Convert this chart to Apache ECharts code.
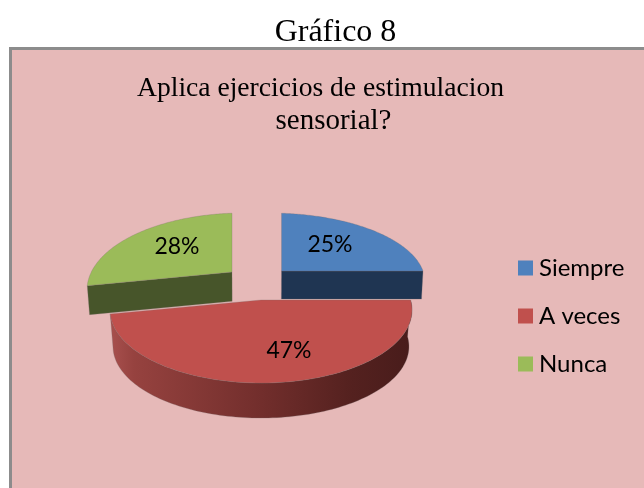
<!DOCTYPE html>
<html>
<head>
<meta charset="utf-8">
<style>html,body{margin:0;padding:0;background:#fff}#c{width:644px;height:488px}</style>
<script src="https://cdn.jsdelivr.net/npm/echarts@6/dist/echarts.min.js"></script>
</head>
<body>
<div id="c"></div>
<script>
const categories = ['Siempre', 'A veces', 'Nunca'];
const values = [25, 47, 28];
const pageTitle = 'Gráfico 8';
const titleLines = ['Aplica ejercicios de estimulacion', 'sensorial?'];

const colors = ['#4F81BD', '#C0504D', '#9BBB59'];
const wallColors = ['#1F3552', null, '#47552A'];
const geometry = [
  {apexX: 281.5, apexY: 271, cx: 270, cy: 282, rx: 155, ry: 69, depth: 28, taper: 0.99, lx: 60, ly: -37, z: 4},
  {apexX: 261, apexY: 300, cx: 261, cy: 310, rx: 151, ry: 73, depth: 36.5, taper: 0.98, lx: 28, ly: 41, z: 2},
  {apexX: 232, apexY: 272, cx: 243, cy: 290, rx: 156, ry: 77, depth: 29, taper: 0.985, lx: -66, ly: -43, z: 3}
];
const total = values.reduce((a, b) => a + b, 0);

function rimPoint(g, a) {
  const dx = g.rx * Math.sin(a), dy = -g.ry * Math.cos(a);
  const ox = g.apexX - g.cx, oy = g.apexY - g.cy;
  const A = dx * dx / (g.rx * g.rx) + dy * dy / (g.ry * g.ry);
  const B = 2 * (ox * dx / (g.rx * g.rx) + oy * dy / (g.ry * g.ry));
  const C = ox * ox / (g.rx * g.rx) + oy * oy / (g.ry * g.ry) - 1;
  const t = (-B + Math.sqrt(B * B - 4 * A * C)) / (2 * A);
  return [g.apexX + t * dx, g.apexY + t * dy];
}
function arcPoints(g, a0, a1) {
  const pts = [];
  const steps = 120;
  for (let i = 0; i <= steps; i++) {
    pts.push(rimPoint(g, a0 + (a1 - a0) * i / steps));
  }
  return pts;
}
function lower(g, p) {
  return [g.cx + (p[0] - g.cx) * g.taper, g.cy + (p[1] - g.cy) * g.taper + g.depth];
}
function renderSlice(index) {
  return function () {
    const g = geometry[index];
    const before = values.slice(0, index).reduce((a, b) => a + b, 0);
    const a0 = before / total * Math.PI * 2;
    const a1 = (before + values[index]) / total * Math.PI * 2;
    const arc = arcPoints(g, a0, a1);
    const apex = [g.apexX, g.apexY];
    const children = [];
    const edge = {stroke: 'rgba(120,110,110,0.45)', lineWidth: 0.6};
    if (index === 1) {
      const low = arc.map(p => lower(g, p)).reverse();
      children.push({
        type: 'polygon',
        shape: {points: arc.concat(low)},
        style: {
          fill: new echarts.graphic.LinearGradient(0, 0, 1, 0, [
            {offset: 0, color: '#A8504E'},
            {offset: 0.08, color: '#96423F'},
            {offset: 0.5, color: '#722E2C'},
            {offset: 0.8, color: '#54211F'},
            {offset: 1, color: '#481C1B'}
          ]),
          stroke: edge.stroke, lineWidth: edge.lineWidth
        }
      });
    } else {
      const outer = index === 0 ? arc[arc.length - 1] : arc[0];
      children.push({
        type: 'polygon',
        shape: {points: [apex, outer, lower(g, outer), lower(g, apex)]},
        style: {fill: wallColors[index], stroke: edge.stroke, lineWidth: edge.lineWidth}
      });
    }
    children.push({
      type: 'polygon',
      shape: {points: [apex].concat(arc)},
      style: {fill: colors[index], stroke: edge.stroke, lineWidth: edge.lineWidth}
    });
    children.push({
      type: 'text',
      z2: 10,
      style: {
        x: g.cx + g.lx, y: g.cy + g.ly,
        text: values[index] + '%',
        fill: '#000', font: '23px Lato',
        align: 'center', verticalAlign: 'middle'
      }
    });
    return {type: 'group', children};
  };
}

const chart = echarts.init(document.getElementById('c'), null, {renderer: 'canvas'});
chart.setOption({
  animation: false,
  backgroundColor: '#ffffff',
  title: [
    {text: pageTitle, left: 335.5, top: 17, textAlign: 'center', padding: 0,
      textStyle: {fontFamily: 'Liberation Serif', fontSize: 32, fontWeight: 'normal', color: '#000'}},
    {text: titleLines[0], left: 320.5, top: 75, textAlign: 'center', padding: 0,
      textStyle: {fontFamily: 'Liberation Serif', fontSize: 27.6, fontWeight: 'normal', color: '#000'}},
    {text: titleLines[1], left: 333.5, top: 107, textAlign: 'center', padding: 0,
      textStyle: {fontFamily: 'Liberation Serif', fontSize: 29, fontWeight: 'normal', color: '#000'}}
  ],
  graphic: [{
    type: 'rect', z: 0,
    shape: {x: 10.5, y: 48.5, width: 700, height: 500},
    style: {fill: '#E6B9B8', stroke: '#8C8C8C', lineWidth: 3}
  }],
  legend: {
    orient: 'vertical',
    left: 513, top: 251,
    itemWidth: 15, itemHeight: 15, itemGap: 24,
    icon: 'rect',
    data: categories,
    textStyle: {fontFamily: 'Lato', fontSize: 24, color: '#000', padding: [0, 0, 0, 1]},
    selectedMode: false
  },
  series: categories.map((name, i) => ({
    type: 'custom',
    name,
    coordinateSystem: 'none',
    z: geometry[i].z,
    silent: true,
    itemStyle: {color: colors[i]},
    data: [values[i]],
    renderItem: renderSlice(i)
  }))
});
</script>
</body>
</html>
